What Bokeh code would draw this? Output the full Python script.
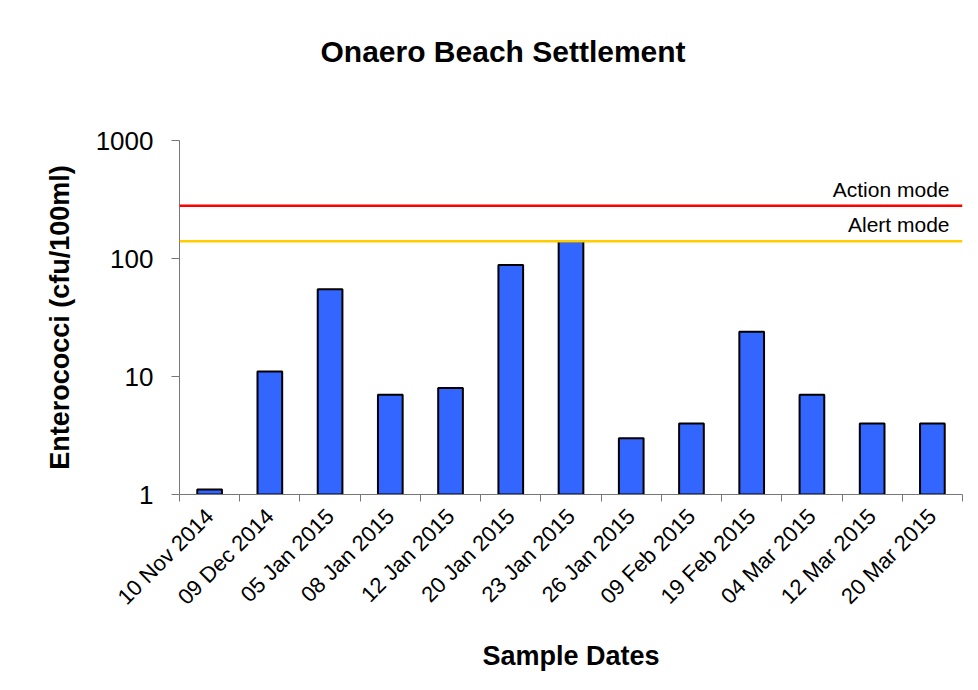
import math
import numpy as np
from bokeh.plotting import figure
from bokeh.models import (Range1d, FixedTicker, CustomJSTickFormatter, PrintfTickFormatter,
                          Span, Label, Title, ColumnDataSource)
from bokeh.embed import file_html
from bokeh.resources import INLINE

# ---- data ----
dates = ["10 Nov 2014", "09 Dec 2014", "05 Jan 2015", "08 Jan 2015", "12 Jan 2015",
         "20 Jan 2015", "23 Jan 2015", "26 Jan 2015", "09 Feb 2015", "19 Feb 2015",
         "04 Mar 2015", "12 Mar 2015", "20 Mar 2015"]
enterococci = [1.1, 11, 55, 7, 8, 88, 140, 3, 4, 24, 7, 4, 4]
y_ticks = [1, 10, 100, 1000]
action_level = 280
alert_level = 140
title_text = "Onaero Beach Settlement"
x_title = "Sample Dates"
y_title = "Enterococci (cfu/100ml)"

FONT = "Liberation Sans"
n = len(dates)
centers = list(np.arange(n) + 0.5)
bounds = list(np.arange(n + 1).astype(float))

p = figure(width=970, height=682, frame_width=783, frame_height=354,
           title=None,
           y_axis_type="log", x_range=Range1d(0, n), y_range=Range1d(1, 1000),
           output_backend="svg", toolbar_location=None,
           min_border_left=179, min_border_top=140, min_border_right=8, min_border_bottom=188)
p.xgrid.visible = False
p.ygrid.visible = False
p.outline_line_color = None
p.background_fill_color = "white"
p.border_fill_color = "white"

# spacer (nearest the frame) then the real title above it
p.add_layout(Title(text=" ", text_font_size="30px", standoff=33), "above")
p.add_layout(Title(text=title_text, text_font=FONT, text_font_size="30px",
                   text_font_style="bold", text_color="black", align="left",
                   offset=141, standoff=10), "above")

src = ColumnDataSource(dict(x=centers, top=enterococci))
p.vbar(x="x", top="top", bottom=1, width=0.41, source=src,
       fill_color="#3366FF", line_color="black", line_width=2)

p.add_layout(Span(location=action_level, dimension="width", line_color="#FF0000", line_width=2.5))
p.add_layout(Span(location=alert_level, dimension="width", line_color="#FFCC00", line_width=2.5))

p.add_layout(Label(x=n, y=action_level, text="Action mode", text_align="right",
                   text_baseline="alphabetic", x_offset=-13, y_offset=16,
                   text_font=FONT, text_font_size="21px", text_color="black"))
p.add_layout(Label(x=n, y=alert_level, text="Alert mode", text_align="right",
                   text_baseline="alphabetic", x_offset=-13, y_offset=17,
                   text_font=FONT, text_font_size="21px", text_color="black"))

AX = "#777777"
xa = p.xaxis[0]
xa.ticker = FixedTicker(ticks=centers, minor_ticks=bounds)
xa.formatter = CustomJSTickFormatter(args=dict(labels=dates),
                                     code="return labels[Math.round(tick - 0.5)];")
xa.major_tick_line_color = None
xa.minor_tick_out = 7
xa.minor_tick_in = 0
xa.minor_tick_line_color = AX
xa.axis_line_color = AX
xa.major_label_orientation = math.pi / 4
xa.major_label_text_font = FONT
xa.major_label_text_font_size = "22px"
xa.major_label_text_color = "black"
xa.major_label_standoff = 11
xa.axis_label = x_title
xa.axis_label_text_font = FONT
xa.axis_label_text_font_size = "27px"
xa.axis_label_text_font_style = "bold"
xa.axis_label_text_color = "black"
xa.axis_label_standoff = 20

ya = p.yaxis[0]
ya.ticker = FixedTicker(ticks=y_ticks, minor_ticks=[])
ya.formatter = PrintfTickFormatter(format="%d")
ya.major_tick_out = 8
ya.major_tick_in = 0
ya.major_tick_line_color = AX
ya.minor_tick_line_color = None
ya.axis_line_color = AX
ya.major_label_text_font = FONT
ya.major_label_text_font_size = "26px"
ya.major_label_text_color = "black"
ya.major_label_standoff = 18
ya.axis_label = y_title
ya.axis_label_text_font = FONT
ya.axis_label_text_font_size = "27px"
ya.axis_label_text_font_style = "bold"
ya.axis_label_text_color = "black"
ya.axis_label_standoff = 18

open("out.html", "w").write(file_html(p, INLINE))
